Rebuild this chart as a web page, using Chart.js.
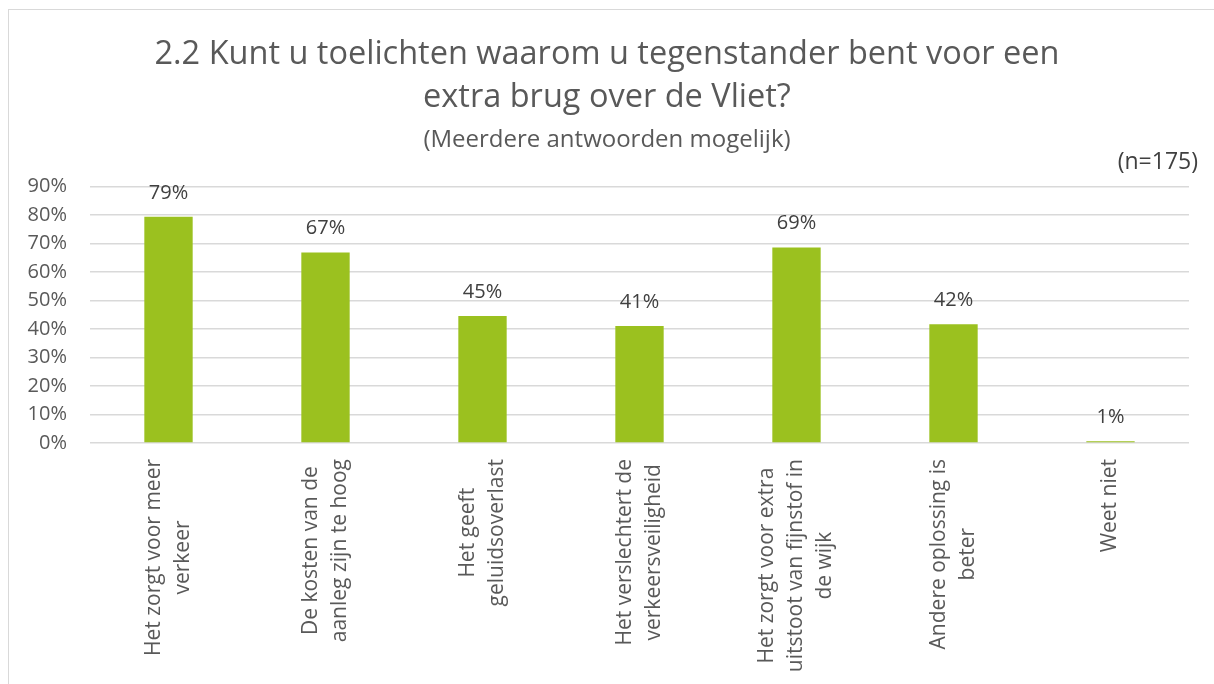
<!DOCTYPE html>
<html>
<head>
<meta charset="utf-8">
<script src="https://cdn.jsdelivr.net/npm/chart.js@4"></script>
<style>
  html, body { margin: 0; padding: 0; background: #fff; overflow: hidden; }
  #wrap { position: relative; width: 1214px; height: 684px; }
  #frame { position: absolute; left: 8px; top: 9px; width: 1300px; height: 800px; border: 1.5px solid #d9d9d9; box-sizing: border-box; }
  canvas { position: absolute; left: 0; top: 0; }
</style>
</head>
<body>
<div id="wrap">
  <div id="frame"></div>
  <canvas id="c" width="1214" height="684"></canvas>
</div>
<script>
const titleLines = ['2.2 Kunt u toelichten waarom u tegenstander bent voor een', 'extra brug over de Vliet?'];
const subtitleText = '(Meerdere antwoorden mogelijk)';
const sampleNote = '(n=175)';
const categories = [
  ['Het zorgt voor meer', 'verkeer'],
  ['De kosten van de', 'aanleg zijn te hoog'],
  ['Het geeft', 'geluidsoverlast'],
  ['Het verslechtert de', 'verkeersveiligheid'],
  ['Het zorgt voor extra', 'uitstoot van fijnstof in', 'de wijk'],
  ['Andere oplossing is', 'beter'],
  ['Weet niet']
];
const values = [79.4, 66.9, 44.6, 41.1, 68.6, 41.7, 0.6];
const valueLabels = ['79%', '67%', '45%', '41%', '69%', '42%', '1%'];
const yTicks = [0, 10, 20, 30, 40, 50, 60, 70, 80, 90];

const FONT = "'Open Sans', sans-serif";

const labelPlugin = {
  id: 'customText',
  afterDatasetsDraw(chart) {
    const ctx = chart.ctx;
    const meta = chart.getDatasetMeta(0);
    ctx.save();
    // value labels
    ctx.font = '20px ' + FONT;
    ctx.fillStyle = '#404040';
    ctx.textAlign = 'center';
    ctx.textBaseline = 'middle';
    meta.data.forEach((bar, i) => {
      ctx.fillText(valueLabels[i], bar.x, bar.y - 24);
    });
    // category labels, rotated, lines centered
    const xs = chart.scales.x;
    const top = chart.chartArea.bottom + 16;
    ctx.font = '21px ' + FONT;
    ctx.fillStyle = '#595959';
    categories.forEach((lines, i) => {
      const cx = xs.getPixelForTick(i);
      const wmax = Math.max(...lines.map(l => ctx.measureText(l).width));
      ctx.save();
      ctx.translate(cx, top);
      ctx.rotate(-Math.PI / 2);
      ctx.textAlign = 'center';
      ctx.textBaseline = 'middle';
      const n = lines.length;
      lines.forEach((l, j) => {
        ctx.fillText(l, -wmax / 2, (j - (n - 1) / 2) * 29);
      });
      ctx.restore();
    });
    // sample note
    ctx.font = '23px ' + FONT;
    ctx.fillStyle = '#404040';
    ctx.textAlign = 'right';
    ctx.textBaseline = 'middle';
    ctx.fillText(sampleNote, 1198, 162);
    ctx.restore();
  }
};

new Chart(document.getElementById('c'), {
  type: 'bar',
  data: {
    labels: categories,
    datasets: [{
      data: values,
      backgroundColor: '#9BC11F',
      borderWidth: 0,
      barPercentage: 1,
      categoryPercentage: 0.308
    }]
  },
  options: {
    responsive: false,
    animation: false,
    layout: { padding: { left: 25, right: 25, top: 0, bottom: 0 } },
    plugins: {
      legend: { display: false },
      tooltip: { enabled: false },
      title: {
        display: true,
        text: titleLines,
        color: '#595959',
        font: { family: FONT, size: 32.5, weight: 'normal', lineHeight: 1.32 },
        padding: { top: 33, bottom: 4 }
      },
      subtitle: {
        display: true,
        text: subtitleText,
        color: '#595959',
        font: { family: FONT, size: 24, weight: 'normal', lineHeight: 1.2 },
        padding: { top: 3, bottom: 32 }
      }
    },
    scales: {
      x: {
        grid: { display: false },
        border: { display: false },
        ticks: { display: false },
        afterFit(scale) { scale.height = 241; }
      },
      y: {
        min: 0,
        max: 90,
        afterBuildTicks(scale) { scale.ticks = yTicks.map(v => ({ value: v })); },
        grid: { color: '#d9d9d9', lineWidth: 1.5, drawTicks: false },
        border: { display: false },
        ticks: {
          padding: 23,
          color: '#595959',
          font: { family: FONT, size: 20 },
          callback: v => v + '%'
        },
        afterFit(scale) { scale.width = 65; }
      }
    }
  },
  plugins: [labelPlugin]
});
</script>
</body>
</html>
